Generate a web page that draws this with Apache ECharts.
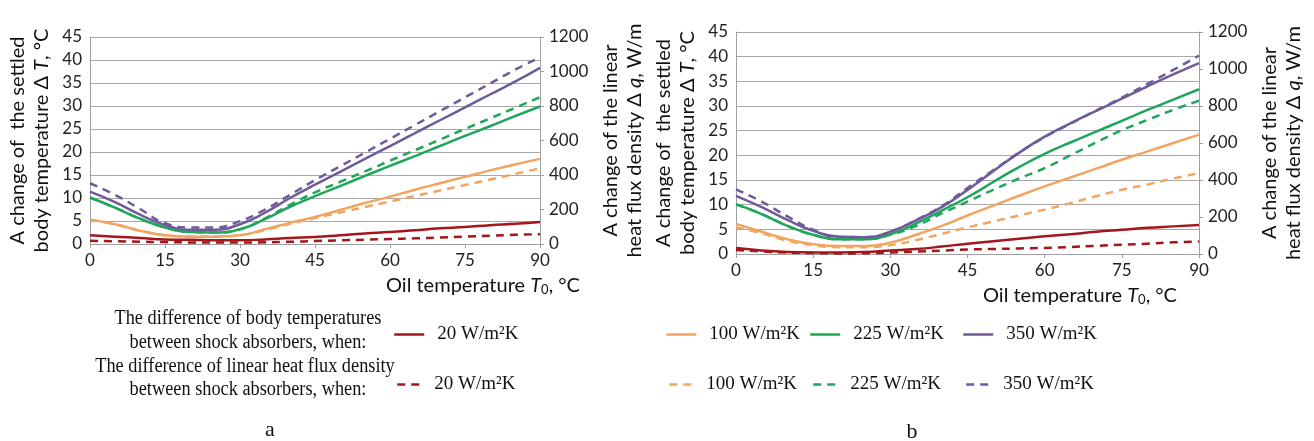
<!DOCTYPE html>
<html>
<head>
<meta charset="utf-8">
<script src="https://cdn.jsdelivr.net/npm/echarts@6.0.0/dist/echarts.min.js"></script>
<style>
    html, body {margin: 0; padding: 0; background: #fff;}
    #main {width: 1314px; height: 441px;}
</style>
</head>
<body>
<div id="main"></div>
<script>
// oil temperature, °C
var temps = [0, 5, 10, 15, 20, 25, 30, 35, 40, 45, 50, 55, 60, 65, 70, 75, 80, 85, 90];

// chart a: body temperature difference, °C
var aT20  = [1.9, 1.6, 1.3, 1.0, 0.9, 0.8, 0.8, 1.0, 1.3, 1.5, 1.9, 2.3, 2.6, 3.0, 3.4, 3.7, 4.1, 4.4, 4.8];
var aT100 = [5.3, 4.3, 2.9, 1.9, 1.6, 1.6, 1.9, 3.2, 4.6, 5.9, 7.4, 8.9, 10.3, 11.8, 13.2, 14.6, 16.0, 17.3, 18.5];
var aT225 = [10.1, 7.9, 5.5, 3.6, 2.6, 2.5, 3.2, 5.4, 8.1, 10.4, 12.6, 14.8, 17.0, 19.1, 21.3, 23.5, 25.6, 27.8, 29.9];
var aT350 = [11.4, 9.1, 6.4, 4.1, 3.1, 3.1, 4.3, 6.8, 10.0, 12.9, 15.7, 18.5, 21.3, 24.1, 26.9, 29.7, 32.5, 35.3, 38.3];
// chart a: linear heat flux density difference, W/m
var aQ20  = [19, 16, 13, 11, 9, 8, 8, 10, 13, 17, 21, 25, 29, 33, 38, 43, 48, 53, 57];
var aQ100 = [141, 115, 77, 51, 43, 43, 51, 80, 117, 150, 182, 214, 246, 278, 310, 342, 374, 406, 438];
var aQ225 = [269, 211, 147, 96, 69, 67, 85, 149, 227, 299, 360, 421, 483, 544, 605, 667, 728, 789, 851];
var aQ350 = [352, 285, 203, 120, 96, 96, 133, 200, 285, 370, 450, 530, 610, 690, 770, 850, 930, 1010, 1082];

// chart b: body temperature difference, °C
var bT20  = [1.2, 0.7, 0.4, 0.3, 0.3, 0.4, 0.7, 1.0, 1.5, 2.1, 2.6, 3.1, 3.6, 4.0, 4.5, 4.9, 5.3, 5.6, 5.9];
var bT100 = [6.1, 4.5, 3.0, 2.0, 1.6, 1.6, 2.3, 3.9, 5.7, 7.8, 9.8, 11.8, 13.7, 15.5, 17.3, 19.1, 20.8, 22.5, 24.2];
var bT225 = [10.1, 8.1, 5.7, 3.9, 3.0, 3.0, 4.0, 6.2, 8.8, 11.5, 14.6, 17.6, 20.3, 22.6, 24.8, 27.0, 29.2, 31.3, 33.4];
var bT350 = [11.8, 9.5, 6.9, 4.7, 3.5, 3.4, 4.5, 6.8, 9.5, 13.0, 16.8, 20.5, 23.8, 26.5, 29.0, 31.5, 34.0, 36.4, 38.7];
// chart b: linear heat flux density difference, W/m
var bQ20  = [21, 14, 8, 5, 3, 4, 8, 13, 18, 24, 27, 30, 33, 38, 44, 50, 56, 63, 68];
var bQ100 = [144, 112, 72, 48, 37, 37, 48, 75, 109, 144, 176, 208, 240, 275, 312, 347, 376, 408, 437];
var bQ225 = [267, 216, 152, 104, 80, 80, 104, 152, 219, 283, 347, 408, 464, 533, 603, 669, 725, 779, 829];
var bQ350 = [349, 283, 203, 131, 93, 91, 120, 184, 259, 357, 453, 547, 632, 704, 776, 845, 920, 995, 1072];

var seriesNames = ['T20', 'T100', 'T225', 'T350', 'q20', 'q100', 'q225', 'q350'];
var legendLabels = ['20 W/m²K', '100 W/m²K', '225 W/m²K', '350 W/m²K', '20 W/m²K', '100 W/m²K', '225 W/m²K', '350 W/m²K'];
var colors = ['#a3161c', '#f2a461', '#1ea65a', '#6f5b9a'];

var tickFont = 'Lato';
var serif = '"Liberation Serif", "Times New Roman", serif';

function pairs(ys) {
    var out = [];
    for (var i = 0; i < temps.length; i++) {
        out.push([temps[i], ys[i]]);
    }
    return out;
}

function line(name, gridIdx, yIdx, color, ys, dashed) {
    return {
        name: name,
        type: 'line',
        xAxisIndex: gridIdx,
        yAxisIndex: yIdx,
        data: pairs(ys),
        smooth: true,
        symbol: 'none',
        showSymbol: false,
        lineStyle: {color: color, width: 2.5, type: dashed ? [8, 6] : 'solid'},
        itemStyle: {color: color},
        z: dashed ? 3 : 2
    };
}

var axisNameStyle = {
    fontFamily: tickFont, fontSize: 20, color: '#111', lineHeight: 24,
    rich: {
        a: {fontFamily: tickFont, fontSize: 20, color: '#111', lineHeight: 24},
        i: {fontFamily: tickFont, fontSize: 20, color: '#111', lineHeight: 24, fontStyle: 'italic'},
        s: {fontFamily: tickFont, fontSize: 13, color: '#111', lineHeight: 24, padding: [8, 0, 0, 0]}
    }
};

function xAxis(gridIdx, nameGap, shift) {
    return {
        type: 'value', gridIndex: gridIdx, min: 0, max: 90, interval: 15,
        name: '{a|Oil temperature }{i|T}{s|0}{a|, °C}',
        nameLocation: 'middle', nameGap: nameGap,
        nameTextStyle: Object.assign({}, axisNameStyle, {padding: [0, 0, 0, shift]}),
        axisLine: {lineStyle: {color: '#a0a0a0', width: 1}},
        axisTick: {show: true, length: 4, lineStyle: {color: '#a0a0a0'}},
        axisLabel: {fontFamily: tickFont, fontSize: 17, color: '#222', margin: 8},
        splitLine: {show: false}
    };
}

function leftAxis(gridIdx) {
    return {
        type: 'value', gridIndex: gridIdx, position: 'left', min: 0, max: 45, interval: 5,
        name: '{a|A change of  the settled}\n{a|body temperature Δ }{i|T}{a|, °C}',
        nameLocation: 'middle', nameRotate: 90, nameGap: 36,
        nameTextStyle: axisNameStyle,
        axisLine: {show: true, lineStyle: {color: '#a0a0a0', width: 1}},
        axisTick: {show: false},
        axisLabel: {fontFamily: tickFont, fontSize: 17, color: '#222', margin: 8},
        splitLine: {show: true, lineStyle: {color: '#a8a8a8', width: 1}}
    };
}

function rightAxis(gridIdx) {
    return {
        type: 'value', gridIndex: gridIdx, position: 'right', min: 0, max: 1200, interval: 200,
        name: '{a|A change of the linear}\n{a|heat flux density Δ }{i|q}{a|, W/m}',
        nameLocation: 'middle', nameRotate: 90, nameGap: 59,
        nameTextStyle: axisNameStyle,
        axisLine: {show: true, lineStyle: {color: '#a0a0a0', width: 1}},
        axisTick: {show: true, length: 4, lineStyle: {color: '#a0a0a0'}},
        axisLabel: {fontFamily: tickFont, fontSize: 17, color: '#222', margin: 9,
            formatter: function (v) { return String(v); }},
        splitLine: {show: false}
    };
}

// legend: one small legend per entry, laid out like the original figure
var legendLefts = [393, 665, 809, 962];
var legendTops = [325, 375];
var legends = [];
for (var k = 0; k < seriesNames.length; k++) {
    legends.push({
        data: [seriesNames[k]],
        left: legendLefts[k % 4] + (k >= 4 ? 3 : 0),
        top: legendTops[k < 4 ? 0 : 1],
        padding: 0,
        itemWidth: k < 4 ? 30 : 24,
        itemHeight: 14,
        selectedMode: false,
        itemStyle: {opacity: 0},
        lineStyle: {width: 2.5},
        formatter: function (name) {
            return legendLabels[seriesNames.indexOf(name)];
        },
        textStyle: {fontFamily: serif, fontSize: 19, color: '#111', padding: [0, 0, 0, 8]}
    });
}

var series = [];
var aT = [aT20, aT100, aT225, aT350], aQ = [aQ20, aQ100, aQ225, aQ350];
var bT = [bT20, bT100, bT225, bT350], bQ = [bQ20, bQ100, bQ225, bQ350];
for (var j = 0; j < 4; j++) {
    series.push(line(seriesNames[j], 0, 0, colors[j], aT[j], false));
    series.push(line(seriesNames[j], 1, 2, colors[j], bT[j], false));
}
for (var j2 = 0; j2 < 4; j2++) {
    series.push(line(seriesNames[j2 + 4], 0, 1, colors[j2], aQ[j2], true));
    series.push(line(seriesNames[j2 + 4], 1, 3, colors[j2], bQ[j2], true));
}

function caption(text, x, y, size, sx) {
    return {
        type: 'text', x: x, y: y, scaleX: sx || 1,
        style: {text: text, fontFamily: serif, fontSize: size, fill: '#111', align: 'center', verticalAlign: 'middle'}
    };
}

var chart = echarts.init(document.getElementById('main'));
chart.setOption({
    animation: false,
    grid: [
        {left: 90, top: 37, width: 450, height: 207, outerBoundsMode: 'none', containLabel: false},
        {left: 736, top: 32, width: 463, height: 222, outerBoundsMode: 'none', containLabel: false}
    ],
    xAxis: [xAxis(0, 30, 336), xAxis(1, 28, 225)],
    yAxis: [leftAxis(0), rightAxis(0), leftAxis(1), rightAxis(1)],
    legend: legends,
    series: series,
    graphic: [
        caption('The difference of body temperatures', 248, 319, 20, 0.915),
        caption('between shock absorbers, when:', 248, 343, 20, 0.915),
        caption('The difference of linear heat flux density', 245, 367, 20, 0.915),
        caption('between shock absorbers, when:', 248, 390, 20, 0.915),
        caption('a', 270, 430, 22),
        caption('b', 912, 432, 22)
    ]
});
</script>
</body>
</html>
